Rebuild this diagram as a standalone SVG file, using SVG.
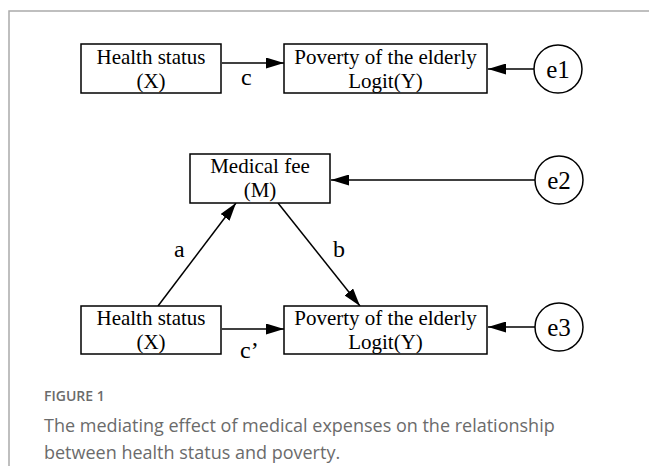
<svg xmlns="http://www.w3.org/2000/svg" width="649" height="466" viewBox="0 0 649 466">
<defs>
<marker id="ah" viewBox="0 0 18 11" refX="18" refY="5.5" markerWidth="18" markerHeight="11" markerUnits="userSpaceOnUse" orient="auto">
<path d="M0,0 L18,5.5 L0,11 Z" fill="#000"/>
</marker>
</defs>
<style>
.box{fill:#fff;stroke:#000;stroke-width:1.5}
.circ{fill:#fff;stroke:#000;stroke-width:1.5}
.t{font-family:"Liberation Serif","Times New Roman",serif;font-size:21px;fill:#000;text-anchor:middle}
.et{font-family:"Liberation Serif","Times New Roman",serif;font-size:25px;fill:#000;text-anchor:middle}
.lbl{font-family:"Liberation Serif","Times New Roman",serif;font-size:24px;fill:#000}
.edge{stroke:#000;stroke-width:1.5;fill:none;marker-end:url(#ah)}
.cap{font-family:"Open Sans","Noto Sans",sans-serif;fill:#6b6b6b}
</style>
<rect width="649" height="466" fill="#fff"/>
<path d="M649,11 H9 V466" fill="none" stroke="#aaa" stroke-width="1.5"/>

<g id="connectors">
<line class="edge" x1="222" y1="63" x2="284" y2="63"/>
<line class="edge" x1="534" y1="69" x2="488" y2="69"/>
<line class="edge" x1="535" y1="180" x2="331" y2="180"/>
<line class="edge" x1="158" y1="306" x2="236" y2="203"/>
<line class="edge" x1="278" y1="203" x2="360" y2="306"/>
<line class="edge" x1="222" y1="329" x2="284" y2="329"/>
<line class="edge" x1="535" y1="327" x2="488" y2="327"/>
<text class="lbl" x="241" y="85">c</text>
<text class="lbl" x="174" y="257">a</text>
<text class="lbl" x="333" y="257">b</text>
<text class="lbl" x="240" y="358">c’</text>
</g>

<g id="x1">
<rect class="box" x="81" y="44" width="140" height="49"/>
<text class="t" x="151" y="64">Health status</text>
<text class="t" x="151" y="88">(X)</text>
</g>
<g id="y1">
<rect class="box" x="284" y="44" width="203" height="49"/>
<text class="t" x="385.5" y="64">Poverty of the elderly</text>
<text class="t" x="385.5" y="88">Logit(Y)</text>
</g>
<g id="e1">
<circle class="circ" cx="558" cy="69" r="24"/>
<text class="et" x="558" y="78">e1</text>
</g>

<g id="m">
<rect class="box" x="190" y="154" width="140" height="49"/>
<text class="t" x="260" y="173">Medical fee</text>
<text class="t" x="260" y="197">(M)</text>
</g>
<g id="e2">
<circle class="circ" cx="559" cy="180" r="24"/>
<text class="et" x="559" y="189">e2</text>
</g>

<g id="x2">
<rect class="box" x="81" y="306" width="140" height="48"/>
<text class="t" x="151" y="325">Health status</text>
<text class="t" x="151" y="349">(X)</text>
</g>
<g id="y2">
<rect class="box" x="284" y="306" width="203" height="48"/>
<text class="t" x="385.5" y="325">Poverty of the elderly</text>
<text class="t" x="385.5" y="349">Logit(Y)</text>
</g>
<g id="e3">
<circle class="circ" cx="559" cy="327" r="24"/>
<text class="et" x="559" y="336">e3</text>
</g>

<g id="caption">
<text class="cap" x="44" y="401" font-size="14" font-weight="600">FIGURE 1</text>
<text class="cap" x="44" y="432" font-size="18">The mediating effect of medical expenses on the relationship</text>
<text class="cap" x="44" y="459" font-size="18">between health status and poverty.</text>
</g>
</svg>
